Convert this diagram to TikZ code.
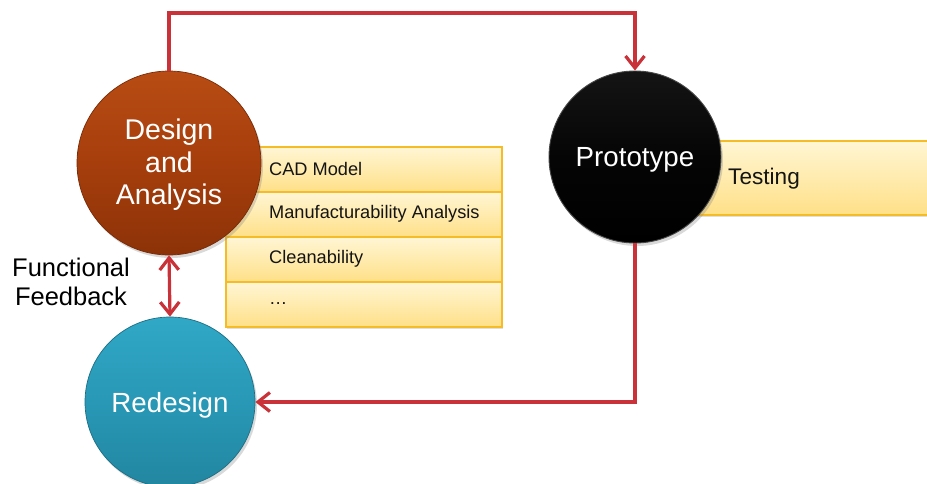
\documentclass[tikz,border=0pt]{standalone}
\usepackage{fontspec}
\setmainfont{Liberation Sans}
\usetikzlibrary{arrows.meta,shadows,calc}

\definecolor{flowred}{RGB}{200,50,56}
\definecolor{boxedge}{RGB}{246,188,40}
\definecolor{boxtop}{RGB}{255,246,212}
\definecolor{boxbot}{RGB}{255,224,136}
\definecolor{rusttop}{RGB}{184,76,20}
\definecolor{rustmid}{RGB}{166,62,12}
\definecolor{rustbot}{RGB}{140,50,8}
\definecolor{rustrim}{RGB}{120,42,6}
\definecolor{tealtop}{RGB}{48,168,198}
\definecolor{tealmid}{RGB}{40,152,182}
\definecolor{tealbot}{RGB}{34,134,160}
\definecolor{tealrim}{RGB}{28,110,132}

\tikzset{
  stage/.style={circle, inner sep=0pt,
    drop shadow={opacity=0.3, shadow xshift=2pt, shadow yshift=-3pt}},
  stagetext/.style={inner sep=0pt, text=white, align=center,
    font=\fontsize{27.7}{32.5}\selectfont},
  listbox/.style={rectangle, draw=boxedge, line width=1.5pt, inner sep=0pt,
    top color=boxtop, bottom color=boxbot,
    minimum width=276pt, minimum height=45pt},
  boxshadow/.style={drop shadow={opacity=0.25, shadow xshift=1pt, shadow yshift=-2pt}},
  listtext/.style={anchor=west, inner sep=0pt, text=black!92,
    font=\fontsize{18.2}{21}\selectfont},
  barb/.tip={Straight Barb[length=12pt, width=19pt, line width=3.2pt]},
  flow/.style={draw=flowred, line width=3.2pt, line join=miter, -barb},
  flowboth/.style={draw=flowred, line width=3.2pt, barb-barb},
}

\begin{document}
\begin{tikzpicture}[x=1pt, y=-1pt]
  \useasboundingbox (0,0) rectangle (927,483);

  % task lists behind the circles
  \node[listbox, boxshadow, anchor=north west] (r1) at (225,146) {};
  \node[listbox, anchor=north west] (r2) at (225,191) {};
  \node[listbox, anchor=north west] (r3) at (225,236) {};
  \node[listbox, boxshadow, anchor=north west] (r4) at (225,281) {};
  \node[listtext] (t1) at (269,169) {CAD Model};
  \node[listtext] (t2) at (269,214) {Manufacturability Analysis};
  \node[listtext] (t3) at (269,259) {Cleanability};
  \node[listtext] (t4) at (269,304) {\dots};

  \node[listbox, boxshadow, anchor=north west, minimum width=260pt, minimum height=74pt] (test) at (680,140) {};
  \node[listtext, font=\fontsize{22.6}{26}\selectfont] (testtxt) at (728,179) {Testing};

  % the three stages
  \node[stage, minimum size=184pt, draw=rustrim, line width=0.7pt,
        top color=rusttop, bottom color=rustbot, middle color=rustmid] (design) at (169,163) {};
  \node[stage, minimum size=172pt, draw=black!72, line width=0.9pt,
        top color=black!92, bottom color=black, middle color=black!98] (proto) at (635,157) {};
  \node[stage, minimum size=170pt, draw=tealrim, line width=0.7pt,
        top color=tealtop, bottom color=tealbot, middle color=tealmid] (redesign) at (170,402) {};

  \node[stagetext, font=\fontsize{28.5}{32.5}\selectfont] (designlbl) at ($(design.center)+(0,2)$) {Design\\and\\Analysis};
  \node[stagetext] (protolbl) at ($(proto.center)+(0,3)$) {Prototype};
  \node[stagetext] (redesignlbl) at ($(redesign.center)+(0,3)$) {Redesign};

  \node[align=center, inner sep=0pt, font=\fontsize{25.5}{29}\selectfont] (fb) at (71,282) {Functional\\Feedback};

  % connectors
  \coordinate (topline) at (0,13);
  \draw[flow] (design.north) -- (design.north |- topline) -| (proto.north);
  \draw[flow] (proto.south) |- (redesign.east);
  \draw[flowboth] (design.south) -- (redesign.north);
\end{tikzpicture}
\end{document}
